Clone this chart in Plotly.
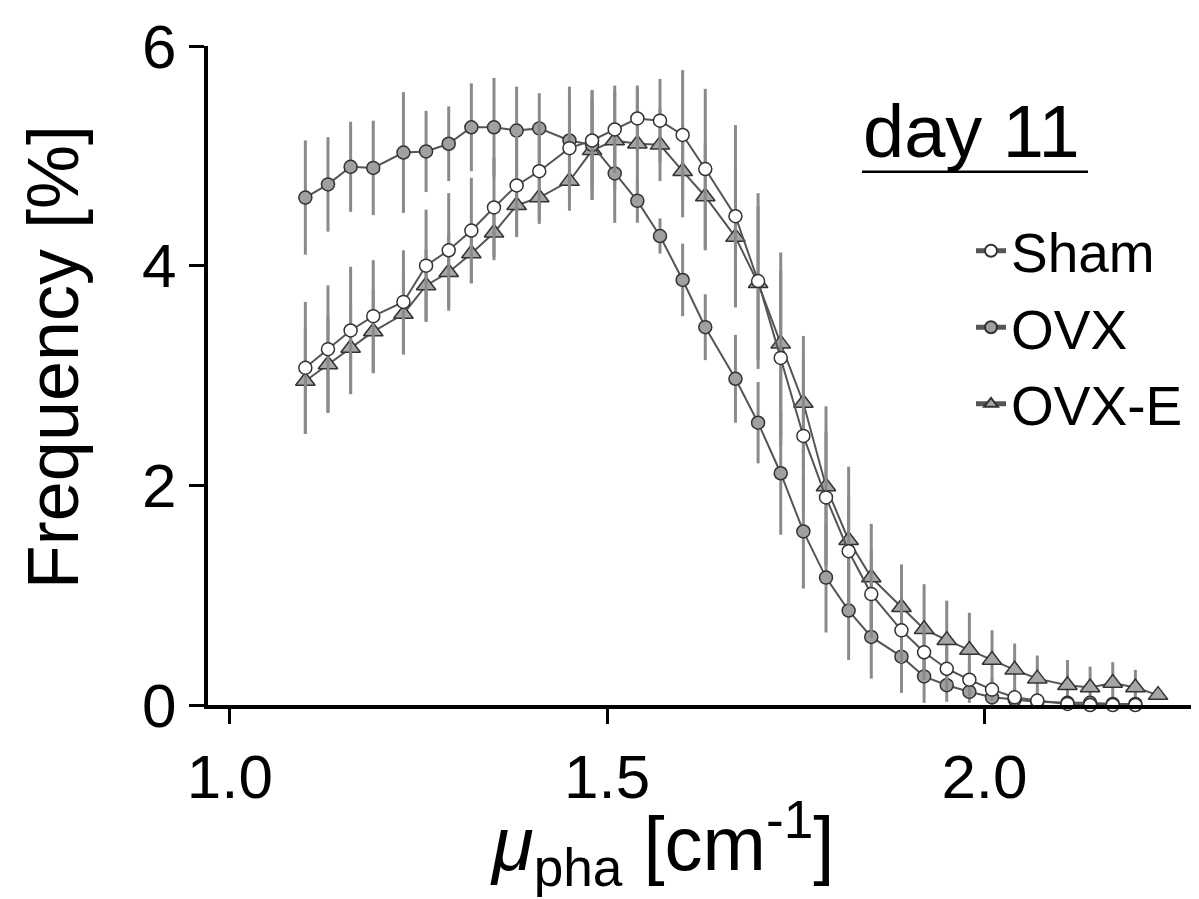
import plotly.graph_objects as go

x_vals = [1.10, 1.13, 1.16, 1.19, 1.23, 1.26, 1.29, 1.32, 1.35, 1.38, 1.41, 1.45, 1.48,
          1.51, 1.54, 1.57, 1.60, 1.63, 1.67, 1.70, 1.73, 1.76, 1.79, 1.82, 1.85, 1.89,
          1.92, 1.95, 1.98, 2.01, 2.04, 2.07, 2.11, 2.14, 2.17, 2.20, 2.23]

sham = [3.07, 3.24, 3.41, 3.54, 3.67, 4.00, 4.14, 4.32, 4.53, 4.73, 4.86, 5.07, 5.14,
        5.24, 5.34, 5.32, 5.19, 4.88, 4.45, 3.86, 3.16, 2.45, 1.89, 1.40, 1.01, 0.68,
        0.48, 0.33, 0.23, 0.14, 0.07, 0.04, 0.01, 0.00, 0.00, 0.00, None]
sham_err = [0.60, 0.58, 0.58, 0.51, 0.47, 0.51, 0.52, 0.48, 0.45, 0.45, 0.45, 0.45, 0.45,
            0.40, 0.30, 0.38, 0.59, 0.73, 0.83, 0.80, 0.80, 0.70, 0.60, 0.50, 0.40, 0.30,
            0.25, 0.20, 0.15, 0.10, 0.08, 0.05, 0.03, 0.02, 0.02, 0.02, 0.0]

ovx = [4.62, 4.74, 4.90, 4.89, 5.03, 5.04, 5.11, 5.26, 5.26, 5.23, 5.25, 5.14, 5.10,
       4.84, 4.59, 4.27, 3.87, 3.44, 2.97, 2.57, 2.11, 1.58, 1.16, 0.86, 0.62, 0.44,
       0.26, 0.18, 0.12, 0.07, 0.05, 0.03, 0.02, 0.02, 0.01, 0.01, None]
ovx_err = [0.52, 0.43, 0.41, 0.43, 0.55, 0.37, 0.34, 0.40, 0.45, 0.40, 0.32, 0.49, 0.50,
           0.45, 0.20, 0.16, 0.33, 0.30, 0.40, 0.37, 0.56, 0.52, 0.50, 0.45, 0.38, 0.33,
           0.24, 0.15, 0.10, 0.07, 0.05, 0.03, 0.02, 0.02, 0.01, 0.01, 0.0]

ovxe = [2.95, 3.10, 3.25, 3.40, 3.56, 3.82, 3.94, 4.11, 4.30, 4.55, 4.62, 4.77, 5.05,
        5.14, 5.11, 5.10, 4.86, 4.63, 4.26, 3.84, 3.29, 2.75, 1.99, 1.50, 1.16, 0.89,
        0.69, 0.59, 0.50, 0.41, 0.32, 0.24, 0.18, 0.16, 0.20, 0.16, 0.09]
ovxe_err = [0.48, 0.44, 0.41, 0.38, 0.37, 0.33, 0.35, 0.27, 0.25, 0.29, 0.24, 0.27, 0.45,
            0.45, 0.50, 0.33, 0.42, 0.49, 0.63, 0.70, 0.83, 0.61, 0.73, 0.67, 0.49, 0.39,
            0.41, 0.36, 0.34, 0.27, 0.24, 0.21, 0.23, 0.19, 0.19, 0.16, 0.0]

x_ticks = [1.0, 1.5, 2.0]
x_tick_labels = ["1.0", "1.5", "2.0"]
y_ticks = [0, 2, 4, 6]
y_tick_labels = ["0", "2", "4", "6"]

FONT = "Liberation Sans, Arial, sans-serif"
LINE_C = "#555555"
ERR_C = "#8a8a8a"
EDGE_C = "#333333"

# plot area in screen pixels (page has an 8px body offset)
L, R, T, B = 200, 1187, 32, 697
PW, PH = R - L, B - T
FIG_W, FIG_H = 1191, 891
OFF = 8


def px(xs):
    return (xs - OFF - L) / PW


def py(ys):
    return (B - (ys - OFF)) / PH


fig = go.Figure()

series = [
    ("OVX-E", ovxe, ovxe_err, "triangle-up", "#a6a6a6", 17, 3),
    ("OVX", ovx, ovx_err, "circle", "#a0a0a0", 13, 2),
    ("Sham", sham, sham_err, "circle", "#ffffff", 13, 1),
]
for name, ys, errs, sym, fill, size, rank in series:
    fig.add_trace(go.Scatter(
        x=x_vals, y=ys, name=name, mode="lines+markers",
        legendgroup=name, legendrank=rank,
        line=dict(color=LINE_C, width=2),
        marker=dict(symbol=sym, size=size, color=fill,
                    line=dict(color=EDGE_C, width=1.5)),
        error_y=dict(type="data", array=errs, visible=True,
                     color=ERR_C, thickness=3, width=0),
        cliponaxis=False,
    ))

fig.update_layout(
    width=FIG_W, height=FIG_H,
    margin=dict(l=L, r=FIG_W - R, t=T, b=FIG_H - B),
    paper_bgcolor="white", plot_bgcolor="white",
    font=dict(family=FONT, color="black"),
    showlegend=True,
    legend=dict(
        x=px(971), y=py(204), xanchor="left", yanchor="top",
        font=dict(size=55, family=FONT, color="black"),
        bgcolor="rgba(0,0,0,0)", tracegroupgap=2,
        itemsizing="constant",
    ),
)

fig.update_xaxes(
    range=[0.971, 2.279], tickvals=x_ticks, ticktext=x_tick_labels,
    showline=True, linecolor="black", linewidth=4,
    ticks="outside", ticklen=15, tickwidth=3, tickcolor="black",
    tickfont=dict(size=62, family=FONT), showgrid=False, zeroline=False,
    ticklabeloverflow="allow",
)
fig.update_yaxes(
    range=[0, 6], tickvals=y_ticks, ticktext=y_tick_labels,
    showline=True, linecolor="black", linewidth=4,
    ticks="outside", ticklen=15, tickwidth=3, tickcolor="black",
    tickfont=dict(size=62, family=FONT), showgrid=False, zeroline=False,
    ticklabeloverflow="allow",
)

fig.add_annotation(
    text="<i>μ</i><sub>pha</sub> [cm<sup>-1</sup>]", xref="paper", yref="paper",
    x=px(662), y=py(845), xanchor="center", yanchor="middle",
    showarrow=False, font=dict(size=76, family=FONT),
)
fig.add_annotation(
    text="Frequency [%]", xref="paper", yref="paper", textangle=-90,
    x=px(53), y=py(354), xanchor="center", yanchor="middle",
    showarrow=False, font=dict(size=72, family=FONT),
)
fig.add_annotation(
    text="day 11", xref="paper", yref="paper",
    x=px(971), y=py(126), xanchor="center", yanchor="middle",
    showarrow=False, font=dict(size=74, family=FONT),
)
fig.add_shape(
    type="line", xref="paper", yref="paper",
    x0=px(862), x1=px(1088), y0=py(167), y1=py(167),
    line=dict(color="black", width=2.5),
)

fig.write_html("out.html")
